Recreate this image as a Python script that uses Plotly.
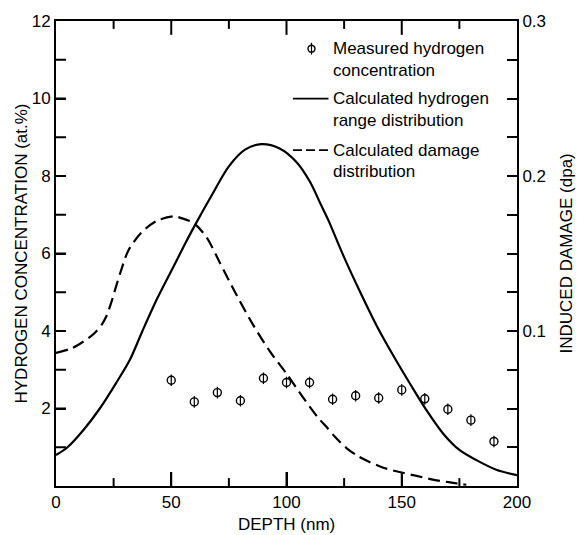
import plotly.graph_objects as go

# ---- data ----
# Calculated hydrogen range distribution (at.%)
h_depth = [0, 5, 12, 19, 26, 32, 37.5, 44, 50, 56, 60, 68, 75, 82, 89, 97, 104, 110,
           115, 118, 125, 132, 139, 146, 154, 161, 168, 175, 182, 191, 200]
h_conc = [0.8, 1.0, 1.45, 2.0, 2.65, 3.25, 4.0, 4.85, 5.55, 6.25, 6.7, 7.55, 8.25, 8.68,
          8.82, 8.71, 8.38, 7.87, 7.25, 6.88, 5.9, 5.0, 4.15, 3.4, 2.6, 1.93, 1.35, 0.93,
          0.68, 0.42, 0.28]

# Calculated damage distribution (dpa)
d_depth = [0, 7, 14, 17, 20, 22, 24, 26, 28, 31.4, 37, 44, 51.5, 54, 59.6, 65.4, 71, 78.4,
           85.6, 92.8, 100, 107, 113.5, 117.4, 121, 126, 131, 136, 142, 149, 156.5, 164,
           171, 178]
d_dpa = [0.0858, 0.089, 0.0953, 0.099, 0.1045, 0.110, 0.1185, 0.1285, 0.138, 0.1520,
         0.1635, 0.1713, 0.174, 0.173, 0.1698, 0.1603, 0.1443, 0.123, 0.1038, 0.0868,
         0.0725, 0.0575, 0.0445, 0.038, 0.0318, 0.0245, 0.0193, 0.0155, 0.0118, 0.009,
         0.0065, 0.004, 0.0023, 0.0008]

# Measured hydrogen concentration (at.%)
m_depth = [50, 60, 70, 80, 90, 100, 110, 120, 130, 140, 150, 160, 170, 180, 190]
m_conc = [2.73, 2.17, 2.41, 2.20, 2.78, 2.67, 2.67, 2.24, 2.33, 2.27, 2.48, 2.25,
          1.98, 1.70, 1.15]

# tick positions and labels
x_ticks = [0, 50, 100, 150, 200]
x_major_marks = [50, 100, 150]
x_minor_marks = [25, 75, 125, 175]
y_ticks = [2, 4, 6, 8, 10, 12]
y_marks = [1, 2, 3, 4, 5, 6, 7, 8, 9, 10, 11]
y2_ticks = [0.1, 0.2, 0.3]
y2_ticktext = ["0.1", "0.2", "0.3"]

legend_lines = [
    ["Measured hydrogen", "concentration"],
    ["Calculated hydrogen", "range distribution"],
    ["Calculated damage", "distribution"],
]
x_title = "DEPTH (nm)"
y_title = "HYDROGEN CONCENTRATION (at.%)"
y2_title = "INDUCED DAMAGE (dpa)"

# ---- layout geometry (pixels in 578x535 window) ----
W, H = 578, 535
L, R, T, B = 56, 517, 16, 486
FONT = "Liberation Sans, Arial, sans-serif"


def xp(px):
    return (px - L) / (R - L)


def yp(py):
    return (B - py) / (B - T)


fig = go.Figure()

fig.add_trace(go.Scatter(
    x=h_depth, y=h_conc, mode="lines", xaxis="x", yaxis="y",
    line=dict(color="black", width=2.2, shape="spline", smoothing=0.9),
    showlegend=False, hoverinfo="skip"))

fig.add_trace(go.Scatter(
    x=d_depth, y=d_dpa, mode="lines", xaxis="x", yaxis="y2",
    line=dict(color="black", width=2.2, dash="12px,6px", shape="spline", smoothing=0.8),
    showlegend=False, hoverinfo="skip"))

fig.add_trace(go.Scatter(
    x=m_depth, y=m_conc, mode="markers", xaxis="x", yaxis="y",
    marker=dict(symbol="circle-open", size=8, color="black", line=dict(width=1.4, color="black")),
    error_y=dict(type="constant", value=0.15, width=0, thickness=1.2, color="black"),
    showlegend=False))

axis_common = dict(showgrid=False, zeroline=False, showline=True, linecolor="black",
                   linewidth=2, ticks="inside", tickcolor="black", tickwidth=2,
                   tickmode="array",
                   tickfont=dict(family=FONT, size=17, color="black"))

fig.update_layout(
    width=W, height=H,
    margin=dict(l=L, r=W - R, t=T, b=H - B, pad=0),
    paper_bgcolor="white", plot_bgcolor="white",
    font=dict(family=FONT, size=17, color="black"),
    xaxis=dict(range=[0, 200], tickvals=x_ticks, ticklen=14, mirror=True, **axis_common),
    yaxis=dict(range=[0, 12], tickvals=y_ticks, ticklen=10, **axis_common),
    yaxis2=dict(range=[0, 0.3], overlaying="y", side="right", anchor="x",
                tickvals=y2_ticks, ticktext=y2_ticktext, ticklen=10,
                minor=dict(dtick=0.025, tick0=0, ticks="inside", ticklen=10,
                           tickcolor="black", tickwidth=2),
                **axis_common),
    showlegend=False,
)

annotations = []
shapes = []

# tick marks placed on the x / y scales, drawn inside the frame
tick_line = dict(color="black", width=2)
PW, PH = R - L, B - T
for v in x_major_marks + x_minor_marks:
    ln = (14 if v in x_major_marks else 8) / PH
    shapes.append(dict(type="line", xref="x", yref="paper", x0=v, x1=v, y0=0, y1=ln,
                       line=tick_line, layer="above"))
    shapes.append(dict(type="line", xref="x", yref="paper", x0=v, x1=v, y0=1, y1=1 - ln,
                       line=tick_line, layer="above"))
for v in y_marks:
    shapes.append(dict(type="line", xref="paper", yref="y", x0=0, x1=10 / PW, y0=v, y1=v,
                       line=tick_line, layer="above"))

# axis titles
annotations.append(dict(text=x_title, xref="paper", yref="paper", x=0.5, y=yp(525),
                        xanchor="center", yanchor="middle", showarrow=False,
                        font=dict(family=FONT, size=17)))
annotations.append(dict(text=y_title, xref="paper", yref="paper", x=xp(21), y=0.5,
                        textangle=-90, xanchor="center", yanchor="middle", showarrow=False,
                        font=dict(family=FONT, size=17)))
annotations.append(dict(text=y2_title, xref="paper", yref="paper", x=xp(566), y=0.5,
                        textangle=-90, xanchor="center", yanchor="middle", showarrow=False,
                        font=dict(family=FONT, size=17)))

# legend texts
text_x = xp(330.5)
legend_y = [(43.5, 66), (94.5, 117), (146.5, 168.5)]
for lines, ys in zip(legend_lines, legend_y):
    for t, py in zip(lines, ys):
        annotations.append(dict(text=t, xref="paper", yref="paper", x=text_x, y=yp(py),
                                xanchor="left", yanchor="middle", showarrow=False,
                                font=dict(family=FONT, size=17)))

# legend samples
shapes.append(dict(type="circle", xref="paper", yref="paper",
                   x0=xp(308), x1=xp(315), y0=yp(47.5), y1=yp(40.5),
                   line=dict(color="black", width=1.4)))
shapes.append(dict(type="line", xref="paper", yref="paper",
                   x0=xp(311.5), x1=xp(311.5), y0=yp(38), y1=yp(50),
                   line=dict(color="black", width=1.2)))
shapes.append(dict(type="line", xref="paper", yref="paper",
                   x0=xp(293), x1=xp(328.5), y0=yp(94.5), y1=yp(94.5),
                   line=dict(color="black", width=1.6)))
shapes.append(dict(type="line", xref="paper", yref="paper",
                   x0=xp(293), x1=xp(329.5), y0=yp(146.5), y1=yp(146.5),
                   line=dict(color="black", width=1.8, dash="9px,4px")))

fig.update_layout(annotations=annotations, shapes=shapes)

fig.write_html("out.html")
